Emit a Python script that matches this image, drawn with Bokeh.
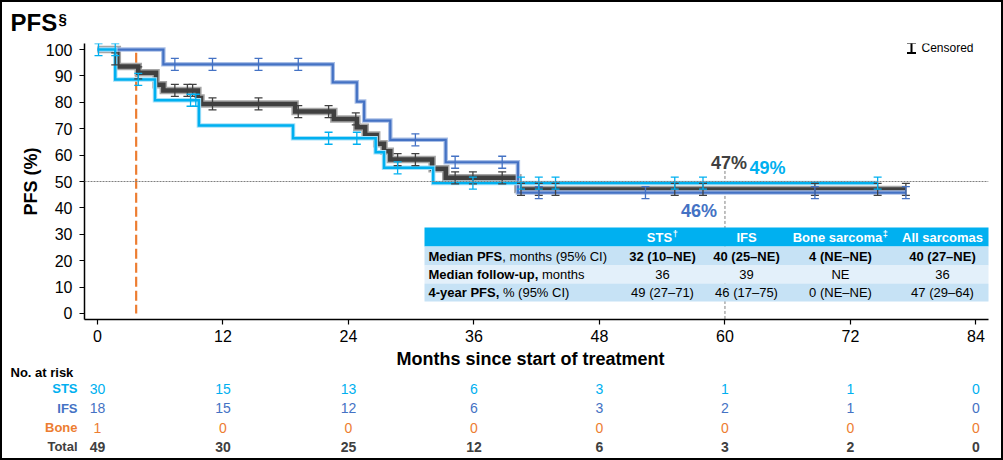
from bokeh.plotting import figure
from bokeh.layouts import column
from bokeh.models import Range1d, Label, Span, FixedTicker
from bokeh.embed import file_html
from bokeh.resources import INLINE

FONT = "Liberation Sans"
CYAN = "#00B0F0"
BLUE = "#4472C4"
DARK = "#404040"
ORANGE = "#ED7D31"

# ---------------- data ----------------
sts_time = [0, 1.7, 5.5, 9.7, 18.7, 26.6, 27.4, 32.1, 74.6]
sts_surv = [100, 88.7, 80.8, 71.2, 66.4, 61.1, 55.2, 49.4, 49.4]
ifs_time = [0, 6.3, 22.5, 24.8, 25.5, 28.0, 33.3, 40.2, 77.3]
ifs_surv = [100, 94.4, 87.6, 80.3, 73.1, 65.8, 57.3, 45.8, 45.8]
all_time = [0, 1.9, 3.9, 5.6, 6.3, 9.6, 9.9, 18.9, 22.6, 24.8, 25.6, 26.7,
            27.4, 28.0, 32.0, 33.3, 40.2, 77.3]
all_surv = [100, 93.6, 91.2, 86.7, 84.5, 81.6, 79.4, 76.5, 73.7, 70.6, 67.6,
            64.3, 61.5, 58.3, 54.8, 51.4, 47.0, 47.0]
bone_time = [0, 3.7]
bone_surv = [100, 0]

sts_cens_t = [0.1, 1.7, 3.9, 8.9, 9.4, 22.1, 24.8, 28.7, 35.9, 40.5, 42.2,
              43.8, 55.2, 57.9, 74.6]
sts_cens_s = [100, 100, 88.7, 80.8, 80.8, 66.4, 66.4, 55.2, 49.4, 49.4, 49.4,
              49.4, 49.4, 49.4, 49.4]
ifs_cens_t = [7.4, 11.0, 15.4, 19.2, 30.4, 34.2, 38.7, 42.2, 52.4, 68.6, 77.3]
ifs_cens_s = [94.4, 94.4, 94.4, 94.4, 65.8, 57.3, 57.3, 45.8, 45.8, 45.8, 45.8]
all_cens_t = [1.7, 3.9, 7.4, 8.6, 9.1, 11.0, 15.4, 19.2, 22.1, 24.7, 28.7,
              30.4, 34.2, 35.9, 38.7, 40.5, 42.2, 43.8, 55.2, 57.9, 68.6,
              74.6, 77.3]
all_cens_s = [96.5, 91.2, 84.5, 84.5, 84.5, 79.4, 79.4, 76.5, 76.5, 73.7,
              58.3, 58.3, 51.4, 51.4, 51.4, 47.0, 47.0, 47.0, 47.0, 47.0,
              47.0, 47.0, 47.0]

x_ticks = [0, 12, 24, 36, 48, 60, 72, 84]
y_ticks = [0, 10, 20, 30, 40, 50, 60, 70, 80, 90, 100]

risk_groups = ["STS", "IFS", "Bone", "Total"]
risk_sts = [30, 15, 13, 6, 3, 1, 1, 0]
risk_ifs = [18, 15, 12, 6, 3, 2, 1, 0]
risk_bone = [1, 0, 0, 0, 0, 0, 0, 0]
risk_total = [49, 30, 25, 12, 6, 3, 2, 0]

table_cols = ["STS", "IFS", "Bone sarcoma", "All sarcomas"]
table_sup = ["†", "", "‡", ""]
row_median_pfs = ["32 (10–NE)", "40 (25–NE)", "4 (NE–NE)", "40 (27–NE)"]
row_followup = ["36", "39", "NE", "36"]
row_4yr = ["49 (27–71)", "46 (17–75)", "0 (NE–NE)", "47 (29–64)"]

pct_labels = ["47%", "49%", "46%"]

# ---------------- layout mapping (page pixels -> data) ----------------
W, H, BW = 1003, 460, 2          # page size, border width
CW = W - 2 * BW                  # content width
FL, FR, FT, FB = 84, 988, 43, 319
X_MIN, X_MAX = -1.24, 85.2
Y_MIN, Y_MAX = -2.3, 102.3
SX = (FR - FL) / (X_MAX - X_MIN)
SY = (FB - FT) / (Y_MAX - Y_MIN)
T_BOT, M_BOT = 38, 350


def xd(px):
    return X_MIN + (px - FL) / SX


def yd(py):
    return Y_MIN + (FB - py) / SY


def lab(fig, x, y, text, size, color="black", style="normal", align="left",
        baseline="middle"):
    fig.add_layout(Label(x=x, y=y, text=text, text_font=FONT,
                         text_font_size=f"{size}px", text_font_style=style,
                         text_color=color, text_align=align,
                         text_baseline=baseline))


def blank(height, xr, yr):
    f = figure(width=CW, height=height, x_range=xr, y_range=yr,
               x_axis_type=None, y_axis_type=None, min_border=0,
               min_border_left=0, min_border_right=0, min_border_top=0,
               min_border_bottom=0, frame_align=False,
               output_backend="svg", toolbar_location=None)
    f.outline_line_color = None
    f.grid.visible = False
    return f


# ---------------- title strip ----------------
t = blank(T_BOT - BW, Range1d(BW, W - BW), Range1d(T_BOT, BW))
lab(t, 10, 21.5, "PFS", 24, "black", "bold", "left", "middle")
lab(t, 58, 17.8, "§", 15, "black", "bold", "left", "middle")

# ---------------- main plot ----------------
p = figure(width=CW, height=M_BOT - T_BOT,
           min_border_left=FL - BW, min_border_right=W - BW - FR,
           min_border_top=FT - T_BOT, min_border_bottom=M_BOT - FB,
           x_range=Range1d(X_MIN, X_MAX), y_range=Range1d(Y_MIN, Y_MAX),
           frame_align=False,
           output_backend="svg", toolbar_location=None)
p.outline_line_color = None
p.grid.visible = False

for ax in (p.xaxis[0], p.yaxis[0]):
    ax.axis_line_color = "black"
    ax.axis_line_width = 1.5
    ax.major_tick_line_color = "black"
    ax.major_tick_line_width = 1.2
    ax.major_tick_out = 5
    ax.major_tick_in = 0
    ax.minor_tick_line_color = None
    ax.major_label_text_font = FONT
    ax.major_label_text_font_size = "16px"
    ax.major_label_text_color = "black"
    ax.axis_label_text_font = FONT
    ax.axis_label_text_font_size = "18px"
    ax.axis_label_text_font_style = "bold"
    ax.axis_label_text_color = "black"

p.xaxis.ticker = FixedTicker(ticks=x_ticks)
p.yaxis.ticker = FixedTicker(ticks=y_ticks)
p.xaxis.major_label_standoff = 5
p.yaxis.major_label_standoff = 7
p.yaxis.axis_label = "PFS (%)"
p.yaxis.axis_label_standoff = 2

p.add_layout(Span(location=50, dimension="width", line_color="#7F7F7F",
                  line_width=1, line_dash="2 1"))
p.segment(x0=[60], y0=[54], x1=[60], y1=[Y_MIN], line_color="#7F7F7F",
          line_width=1, line_dash="3 2")

p.step(bone_time, bone_surv, mode="after", line_color=ORANGE, line_width=2.2,
       line_dash="10 4")

p.step(all_time, all_surv, mode="after", line_color="#A6A6A6", line_width=7.5,
       line_join="miter")
p.step(all_time, all_surv, mode="after", line_color=DARK, line_width=4.5,
       line_join="miter")
p.step(ifs_time, ifs_surv, mode="after", line_color="#A9BFE6", line_width=4.5,
       line_join="miter")
p.step(ifs_time, ifs_surv, mode="after", line_color=BLUE, line_width=2.2,
       line_join="miter")
p.step(sts_time, sts_surv, mode="after", line_color="#A6E0F8", line_width=4.5,
       line_join="miter")
p.step(sts_time, sts_surv, mode="after", line_color=CYAN, line_width=2.5,
       line_join="miter")


def censor(t_, s, color, half_px=6.0, cap=8, lw=1.3):
    h = half_px / SY
    lo = [v - h for v in s]
    hi = [v + h for v in s]
    p.segment(x0=t_, y0=lo, x1=t_, y1=hi, line_color=color, line_width=lw)
    p.scatter(x=list(t_) + list(t_), y=lo + hi, marker="dash", size=cap,
              line_color=color, line_width=lw)


censor(all_cens_t, all_cens_s, DARK)
censor(ifs_cens_t, ifs_cens_s, BLUE)
censor(sts_cens_t, sts_cens_s, CYAN)

# legend for censored
censor([xd(911)], [yd(47.5)], "black", half_px=5, cap=9, lw=2)
lab(p, xd(921), yd(47.5), "Censored", 12)

# percent labels
lab(p, xd(728.5), yd(162), pct_labels[0], 18, DARK, "bold", "center")
lab(p, xd(767), yd(167), pct_labels[1], 18, CYAN, "bold", "center")
lab(p, xd(698.5), yd(210), pct_labels[2], 18, BLUE, "bold", "center")

# summary table
row_edges = [227, 246, 265, 283, 301]
row_fill = [CYAN, "#C6E2F5", "#E3F0FA", "#C6E2F5"]
p.quad(left=[xd(424)] * 4, right=[xd(990)] * 4,
       top=[yd(row_edges[i]) for i in range(4)],
       bottom=[yd(row_edges[i + 1]) for i in range(4)],
       fill_color=row_fill, line_color=None)

col_x = [662, 746, 840, 942]
row_y = [236.5, 255.5, 274, 292]
head_w = [25.3, 0, 89.6, 0]
for i, name in enumerate(table_cols):
    if table_sup[i]:
        sup_w = 6
        left = col_x[i] - (head_w[i] + sup_w) / 2
        lab(p, xd(left), yd(row_y[0]), name, 13, "white", "bold", "left")
        lab(p, xd(left + head_w[i] + 0.5), yd(row_y[0] - 3.5), table_sup[i], 9,
            "white", "bold", "left")
    else:
        lab(p, xd(col_x[i]), yd(row_y[0]), name, 13, "white", "bold", "center")

LX = 428
lab(p, xd(LX), yd(row_y[1]), "Median PFS", 13, "black", "bold")
lab(p, xd(LX + 73.7), yd(row_y[1]), ", months (95% CI)", 13, "black")
lab(p, xd(LX), yd(row_y[2]), "Median follow-up,", 13, "black", "bold")
lab(p, xd(LX + 113.4), yd(row_y[2]), "months", 13, "black")
lab(p, xd(LX), yd(row_y[3]), "4-year PFS,", 13, "black", "bold")
lab(p, xd(LX + 74.4), yd(row_y[3]), "% (95% CI)", 13, "black")
for i in range(4):
    lab(p, xd(col_x[i]), yd(row_y[1]), row_median_pfs[i], 13, "black", "bold",
        "center")
    lab(p, xd(col_x[i]), yd(row_y[2]), row_followup[i], 13, "black", "normal",
        "center")
    lab(p, xd(col_x[i]), yd(row_y[3]), row_4yr[i], 13, "black", "normal",
        "center")

# ---------------- x-axis title + number at risk ----------------
r = blank(H - BW - M_BOT, Range1d(xd(BW), xd(W - BW)), Range1d(H - BW, M_BOT))
lab(r, xd(530), 358, "Months since start of treatment", 18, "black", "bold",
    "center")
lab(r, xd(10), 371.5, "No. at risk", 13, "black", "bold")
risk_rows = [risk_sts, risk_ifs, risk_bone, risk_total]
risk_colors = [CYAN, BLUE, ORANGE, DARK]
risk_y = [388, 407.5, 427, 446]
for k, (name, vals, col) in enumerate(zip(risk_groups, risk_rows, risk_colors)):
    lab(r, xd(77), risk_y[k], name, 13, col, "bold", "right")
    for tk, v in zip(x_ticks, vals):
        lab(r, tk, risk_y[k], str(v), 14, col,
            "bold" if name == "Total" else "normal", "center")

layout = column(t, p, r, spacing=0,
                styles={"border": f"{BW}px solid black"})

open("out.html", "w").write(file_html(layout, INLINE))
